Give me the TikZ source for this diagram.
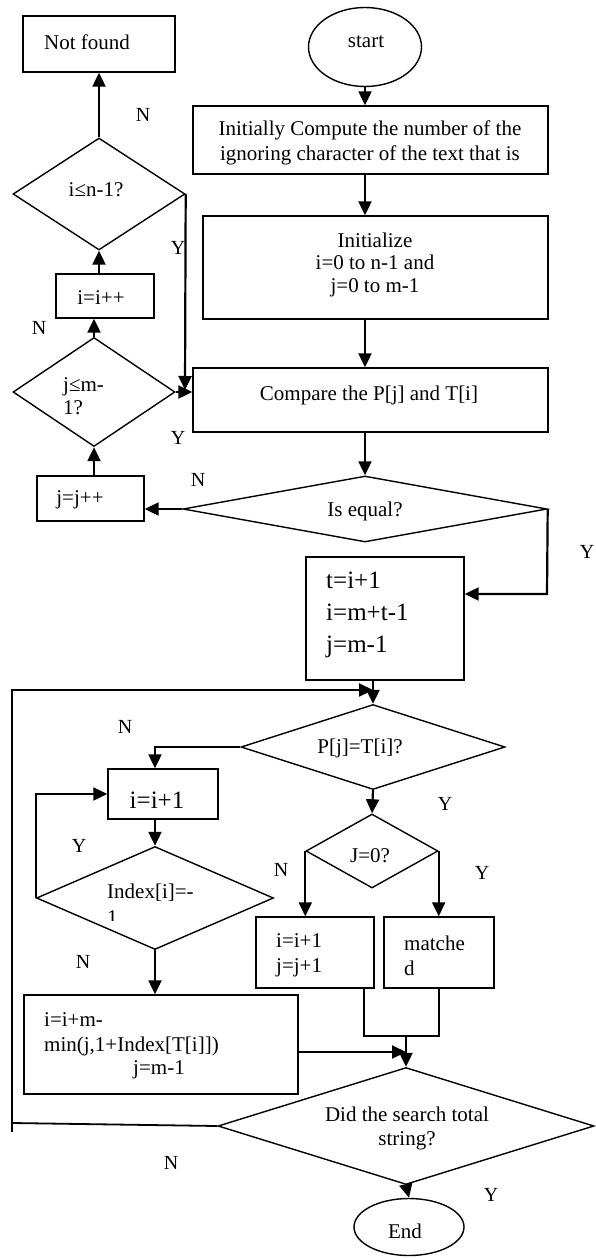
\documentclass[tikz,border=0pt]{standalone}
\usepackage{fontspec}
\setmainfont{Liberation Serif}
\usetikzlibrary{shapes.geometric,arrows.meta}
\begin{document}
\begin{tikzpicture}[x=1pt,y=-1pt,
  box/.style={draw,line width=1.4pt,rectangle,inner sep=0pt},
  dia/.style={draw,line width=1.4pt,diamond,inner sep=0pt},
  oval/.style={draw,line width=1.4pt,ellipse,inner sep=0pt},
  txt/.style={inner sep=0pt,font=\fontsize{21}{25}\selectfont,align=center},
  bigt/.style={inner sep=0pt,font=\fontsize{25}{32}\selectfont,align=left},
  lab/.style={inner sep=0pt,font=\fontsize{20}{24}\selectfont},
  arr/.style={line width=2.2pt,-{Triangle[length=14pt,width=13pt]}},
  conn/.style={line width=1.8pt}]
\useasboundingbox (0,0) rectangle (595,1258);
% shapes
\node[box,minimum width=152pt,minimum height=56pt] (notfound) at (99,44) {};
\node[oval,minimum width=113pt,minimum height=79pt] (start) at (365,47) {};
\node[box,minimum width=355pt,minimum height=68pt] (compute) at (370.5,140) {};
\node[box,minimum width=345pt,minimum height=103pt] (init) at (375.5,267.5) {};
\node[box,minimum width=355pt,minimum height=64pt] (compare) at (370.5,400) {};
\node[dia,minimum width=364pt,minimum height=66pt] (iseq) at (365,509) {};
\node[box,minimum width=158pt,minimum height=123pt] (tbox) at (385,618.5) {};
\node[dia,minimum width=172pt,minimum height=112pt] (idia) at (99,194) {};
\node[box,minimum width=98pt,minimum height=44pt] (iinc) at (105,296) {};
\node[dia,minimum width=162pt,minimum height=109pt] (jdia) at (94,392) {};
\node[box,minimum width=107pt,minimum height=45pt] (jinc) at (90.5,498.5) {};
\node[dia,minimum width=264pt,minimum height=85pt] (pdia) at (373,747) {};
\node[box,minimum width=110pt,minimum height=50pt] (iplus) at (163,794) {};
\node[dia,minimum width=237pt,minimum height=103pt] (idx) at (155,898) {};
\node[box,minimum width=274pt,minimum height=99pt] (bigbox) at (161,1044.5) {};
\node[dia,minimum width=132pt,minimum height=74pt] (jzero) at (372,851) {};
\node[box,minimum width=118pt,minimum height=71pt] (ijbox) at (315,952.5) {};
\node[box,minimum width=110pt,minimum height=71pt] (matched) at (439,952.5) {};
\node[dia,minimum width=376pt,minimum height=117pt] (did) at (406,1126) {};
\node[oval,minimum width=110pt,minimum height=57pt] (end) at (409,1227) {};
% texts
\node[txt,anchor=west] (tnf) at (44,42) {Not found};
\node[txt] (tstart) at (366,42) {start};
\begin{scope}
\clip (193,106) rectangle (548,164);
\node[txt] (tcomp) at (370,142.5) {Initially Compute the number of the\\ignoring character of the text that is};
\end{scope}
\node[txt,font=\fontsize{21}{22.5}\selectfont] (tinit) at (375,264.5) {Initialize\\i=0 to n-1 and\\j=0 to m-1};
\node[txt] (tcmp) at (369,395) {Compare the P[j] and T[i]};
\node[txt] (tiseq) at (365,511) {Is equal?};
\node[bigt,anchor=west] (ttbox) at (326,615) {t=i+1\\i=m+t-1\\j=m-1};
\node[txt] (tidia) at (96,190) {i≤n-1?};
\node[txt] (tiinc) at (101,298) {i=i++};
\node[txt,anchor=west,align=left,font=\fontsize{21}{23}\selectfont] (tjdia) at (63,396.5) {j≤m-\\1?};
\node[txt] (tjinc) at (80,500) {j=j++};
\node[txt] (tpdia) at (360,748) {P[j]=T[i]?};
\node[bigt] (tiplus) at (157,800) {i=i+1};
\node[txt,anchor=west] (tidx) at (107,893) {Index[i]=-};
\begin{scope}
\clip (100,905) rectangle (140,920);
\node[txt,anchor=base west] (tidx2) at (107,924) {1};
\end{scope}
\node[txt,anchor=west,align=left] (tbig) at (44,1034.5) {i=i+m-\\min(j,1+Index[T[i]])};
\node[txt] (tbig2) at (159,1070) {j=m-1};
\node[txt] (tjzero) at (370,856) {J=0?};
\node[txt,anchor=west,align=left] (tij) at (276,955.5) {i=i+1\\j=j+1};
\node[txt,anchor=west,align=left] (tmatch) at (404,955.5) {matche\\d};
\node[txt,font=\fontsize{21}{24}\selectfont] (tdid) at (407,1128) {Did the search total\\string?};
\node[txt] (tend) at (405,1231) {End};
% labels
\node[lab] (l1) at (143,115) {N};
\node[lab] (l2) at (178,248) {Y};
\node[lab] (l3) at (39,328) {N};
\node[lab] (l4) at (178,438) {Y};
\node[lab] (l5) at (198,480) {N};
\node[lab] (l6) at (587,552) {Y};
\node[lab] (l7) at (125,727) {N};
\node[lab] (l8) at (79,846) {Y};
\node[lab] (l9) at (445,804) {Y};
\node[lab] (l10) at (281,870) {N};
\node[lab] (l11) at (482,873) {Y};
\node[lab] (l12) at (83,962) {N};
\node[lab] (l13) at (171,1163) {N};
\node[lab] (l14) at (491,1195) {Y};
% coordinates
\coordinate (yes1) at (547,594);
\coordinate (lb) at (12,1123);
\coordinate (ltail) at (12,1132);
\coordinate (lt) at (12,690);
\coordinate (m1) at (364,1036);
\coordinate (m2) at (439,1036);
\coordinate (bb) at (298,1052);
\coordinate (cmpin) at (185,390);
% connectors
\draw[arr] (start.south) -- (start.south |- compute.north);
\draw[arr] (start.south |- compute.south) -- (start.south |- init.north);
\draw[arr] (start.south |- init.south) -- (start.south |- compare.north);
\draw[arr] (iseq.north |- compare.south) -- (iseq.north);
\draw[arr] (iseq.west) -- (iseq.west -| jinc.east);
\draw[arr] (jdia.south |- jinc.north) -- (jdia.south);
\draw[arr] (jdia.north) -- (jdia.north |- iinc.south);
\draw[arr] (idia.south |- iinc.north) -- (idia.south);
\draw[arr] (idia.north) -- (idia.north |- notfound.south);
\draw[arr] (idia.east) -- (cmpin);
\draw[arr] (jdia.east) -- (jdia.east -| compare.west);
\draw[arr] (iseq.east) -- (yes1) -- (yes1 -| tbox.east);
\draw[arr] (pdia.north |- tbox.south) -- (pdia.north);
\draw[conn] (did.west) -- (lb);
\draw[arr] (ltail) -- (lt) -- (lt -| pdia.north);
\draw[arr] (pdia.west) -| (idx.north |- iplus.north);
\draw[arr] (idx.north |- iplus.south) -- (idx.north);
\draw[arr] (idx.west) |- (iplus.west);
\draw[arr] (idx.south) -- (idx.south |- bigbox.north);
\draw[arr] (pdia.south) -- (jzero.north);
\draw[arr] (jzero.west) -- (jzero.west |- ijbox.north);
\draw[arr] (jzero.east) -- (jzero.east |- matched.north);
\draw[conn] (m1 |- ijbox.south) -- (m1) -- (m2) -- (m2 |- matched.south);
\draw[arr] (did.north |- m1) -- (did.north);
\draw[arr] (bb) -- (bb -| did.north);
\draw[arr] (did.south) -- (end.north);
\end{tikzpicture}
\end{document}
